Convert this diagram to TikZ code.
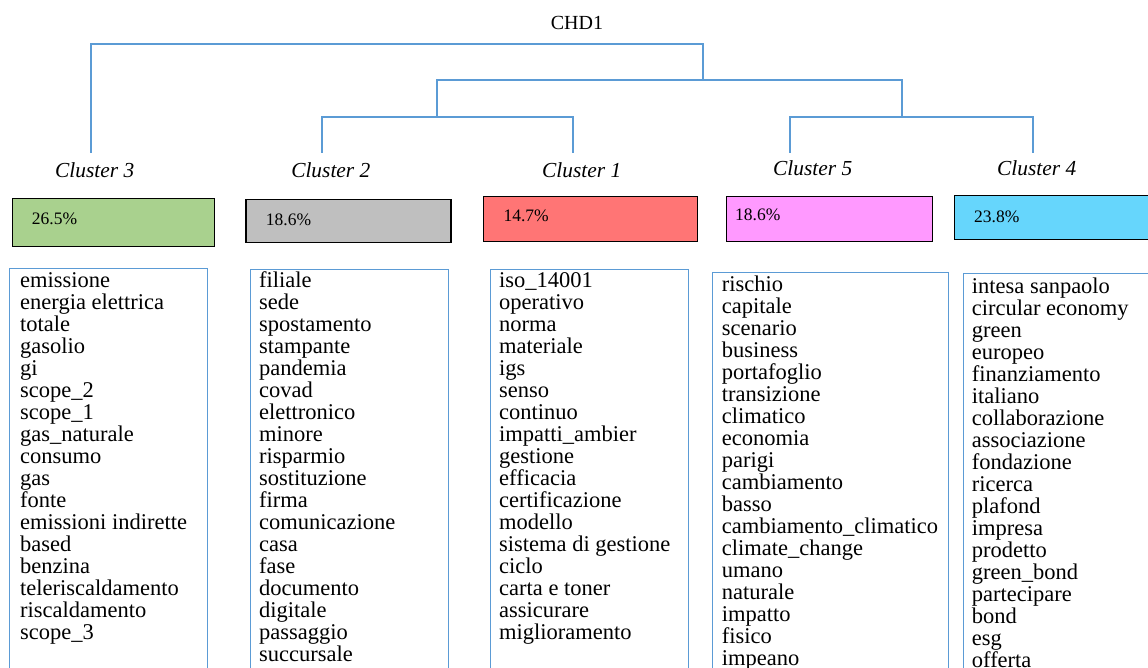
\documentclass[tikz,border=0pt]{standalone}
\usepackage{fontspec}
\setmainfont{Liberation Serif}
\usetikzlibrary{positioning,matrix}

\definecolor{linkblue}{RGB}{91,155,213}
\definecolor{fillthree}{RGB}{169,209,142}
\definecolor{filltwo}{RGB}{191,191,191}
\definecolor{fillone}{RGB}{255,117,117}
\definecolor{fillfive}{RGB}{255,153,255}
\definecolor{fillfour}{RGB}{102,214,252}

\begin{document}
\begin{tikzpicture}[
    x=1pt, y=-1pt,
    link/.style={draw=linkblue, line width=1.5pt},
    clusterlabel/.style={font=\fontsize{21.4}{24}\selectfont\itshape, inner sep=0pt, anchor=base},
    sharebox/.style={draw=black, line width=1.2pt, anchor=north west, inner sep=0pt},
    pct/.style={font=\fontsize{17.5}{20}\selectfont, inner sep=0pt, anchor=base west},
    listframe/.style={draw=linkblue, line width=1pt},
    wordlist/.style={
        matrix of nodes,
        anchor=north west,
        inner sep=0pt,
        row sep=0pt,
        nodes={
            anchor=base west,
            inner sep=0pt,
            text height=15.5pt,
            text depth=6.5pt,
            font=\fontsize{22.5}{22}\selectfont
        }
    }
]
\clip (0,0) rectangle (1148,668);

\node[font=\fontsize{20}{22}\selectfont, inner sep=0pt, anchor=base] (root) at (577,29.3) {CHD1};

\node[clusterlabel] (c3) at (94.7,178) {Cluster 3};
\node[clusterlabel] (c2) at (330.8,177.5) {Cluster 2};
\node[clusterlabel] (c1) at (581.7,177.7) {Cluster 1};
\node[clusterlabel] (c5) at (812.7,175.7) {Cluster 5};
\node[clusterlabel] (c4) at (1036.7,175.7) {Cluster 4};

\coordinate (t3) at (91,153);
\coordinate (t2) at (322,153);
\coordinate (t1) at (573,153);
\coordinate (t5) at (790,153);
\coordinate (t4) at (1033,153);
\coordinate (j21) at (437,117);
\coordinate (j54) at (902,117);
\coordinate (jmid) at (703,80);
\coordinate (jtop) at (703,44);

\draw[link] (t2) |- (j21) -| (t1);
\draw[link] (t5) |- (j54) -| (t4);
\draw[link] (j21) |- (jmid) -| (j54);
\draw[link] (t3) |- (jtop) -- (jmid);

\node[sharebox, fill=fillthree, minimum width=202pt, minimum height=48pt] (b3) at (11.7,197.7) {};
\node[sharebox, fill=filltwo, minimum width=205pt, minimum height=43pt] (b2) at (245.3,199) {};
\node[sharebox, fill=fillone, minimum width=214pt, minimum height=45pt] (b1) at (482.7,196.3) {};
\node[sharebox, fill=fillfive, minimum width=206pt, minimum height=45pt] (b5) at (726,196.3) {};
\node[sharebox, fill=fillfour, minimum width=210pt, minimum height=44pt] (b4) at (953.7,195.3) {};

\node[pct] (p3) at (31.7,225) {26.5\%};
\node[pct] (p2) at (265.7,225.7) {18.6\%};
\node[pct] (p1) at (503.3,222) {14.7\%};
\node[pct] (p5) at (735,220.7) {18.6\%};
\node[pct] (p4) at (974,222.7) {23.8\%};

\draw[listframe] (9,268.3) rectangle (207,680);
\draw[listframe] (250.7,269.3) rectangle (448.3,680);
\draw[listframe] (490.7,269.3) rectangle (688.7,680);
\draw[listframe] (712.7,272.7) rectangle (948.3,680);
\draw[listframe] (963.3,274) rectangle (1160,680);

\matrix[wordlist] (l3) at (20,271.5) {
    emissione \\ energia elettrica \\ totale \\ gasolio \\ gi \\ scope\_2 \\
    scope\_1 \\ gas\_naturale \\ consumo \\ gas \\ fonte \\ emissioni indirette \\
    based \\ benzina \\ teleriscaldamento \\ riscaldamento \\ scope\_3 \\
};
\matrix[wordlist] (l2) at (259,272.2) {
    filiale \\ sede \\ spostamento \\ stampante \\ pandemia \\ covad \\
    elettronico \\ minore \\ risparmio \\ sostituzione \\ firma \\ comunicazione \\
    casa \\ fase \\ documento \\ digitale \\ passaggio \\ succursale \\
};
\matrix[wordlist] (l1) at (499,272.2) {
    iso\_14001 \\ operativo \\ norma \\ materiale \\ igs \\ senso \\
    continuo \\ impatti\_ambier \\ gestione \\ efficacia \\ certificazione \\ modello \\
    sistema di gestione \\ ciclo \\ carta e toner \\ assicurare \\ miglioramento \\
};
\matrix[wordlist] (l5) at (721.7,276.2) {
    rischio \\ capitale \\ scenario \\ business \\ portafoglio \\ transizione \\
    climatico \\ economia \\ parigi \\ cambiamento \\ basso \\ cambiamento\_climatico \\
    climate\_change \\ umano \\ naturale \\ impatto \\ fisico \\ impeano \\
};
\matrix[wordlist] (l4) at (971.7,277.8) {
    intesa sanpaolo \\ circular economy \\ green \\ europeo \\ finanziamento \\ italiano \\
    collaborazione \\ associazione \\ fondazione \\ ricerca \\ plafond \\ impresa \\
    prodetto \\ green\_bond \\ partecipare \\ bond \\ esg \\ offerta \\
};
\end{tikzpicture}
\end{document}
